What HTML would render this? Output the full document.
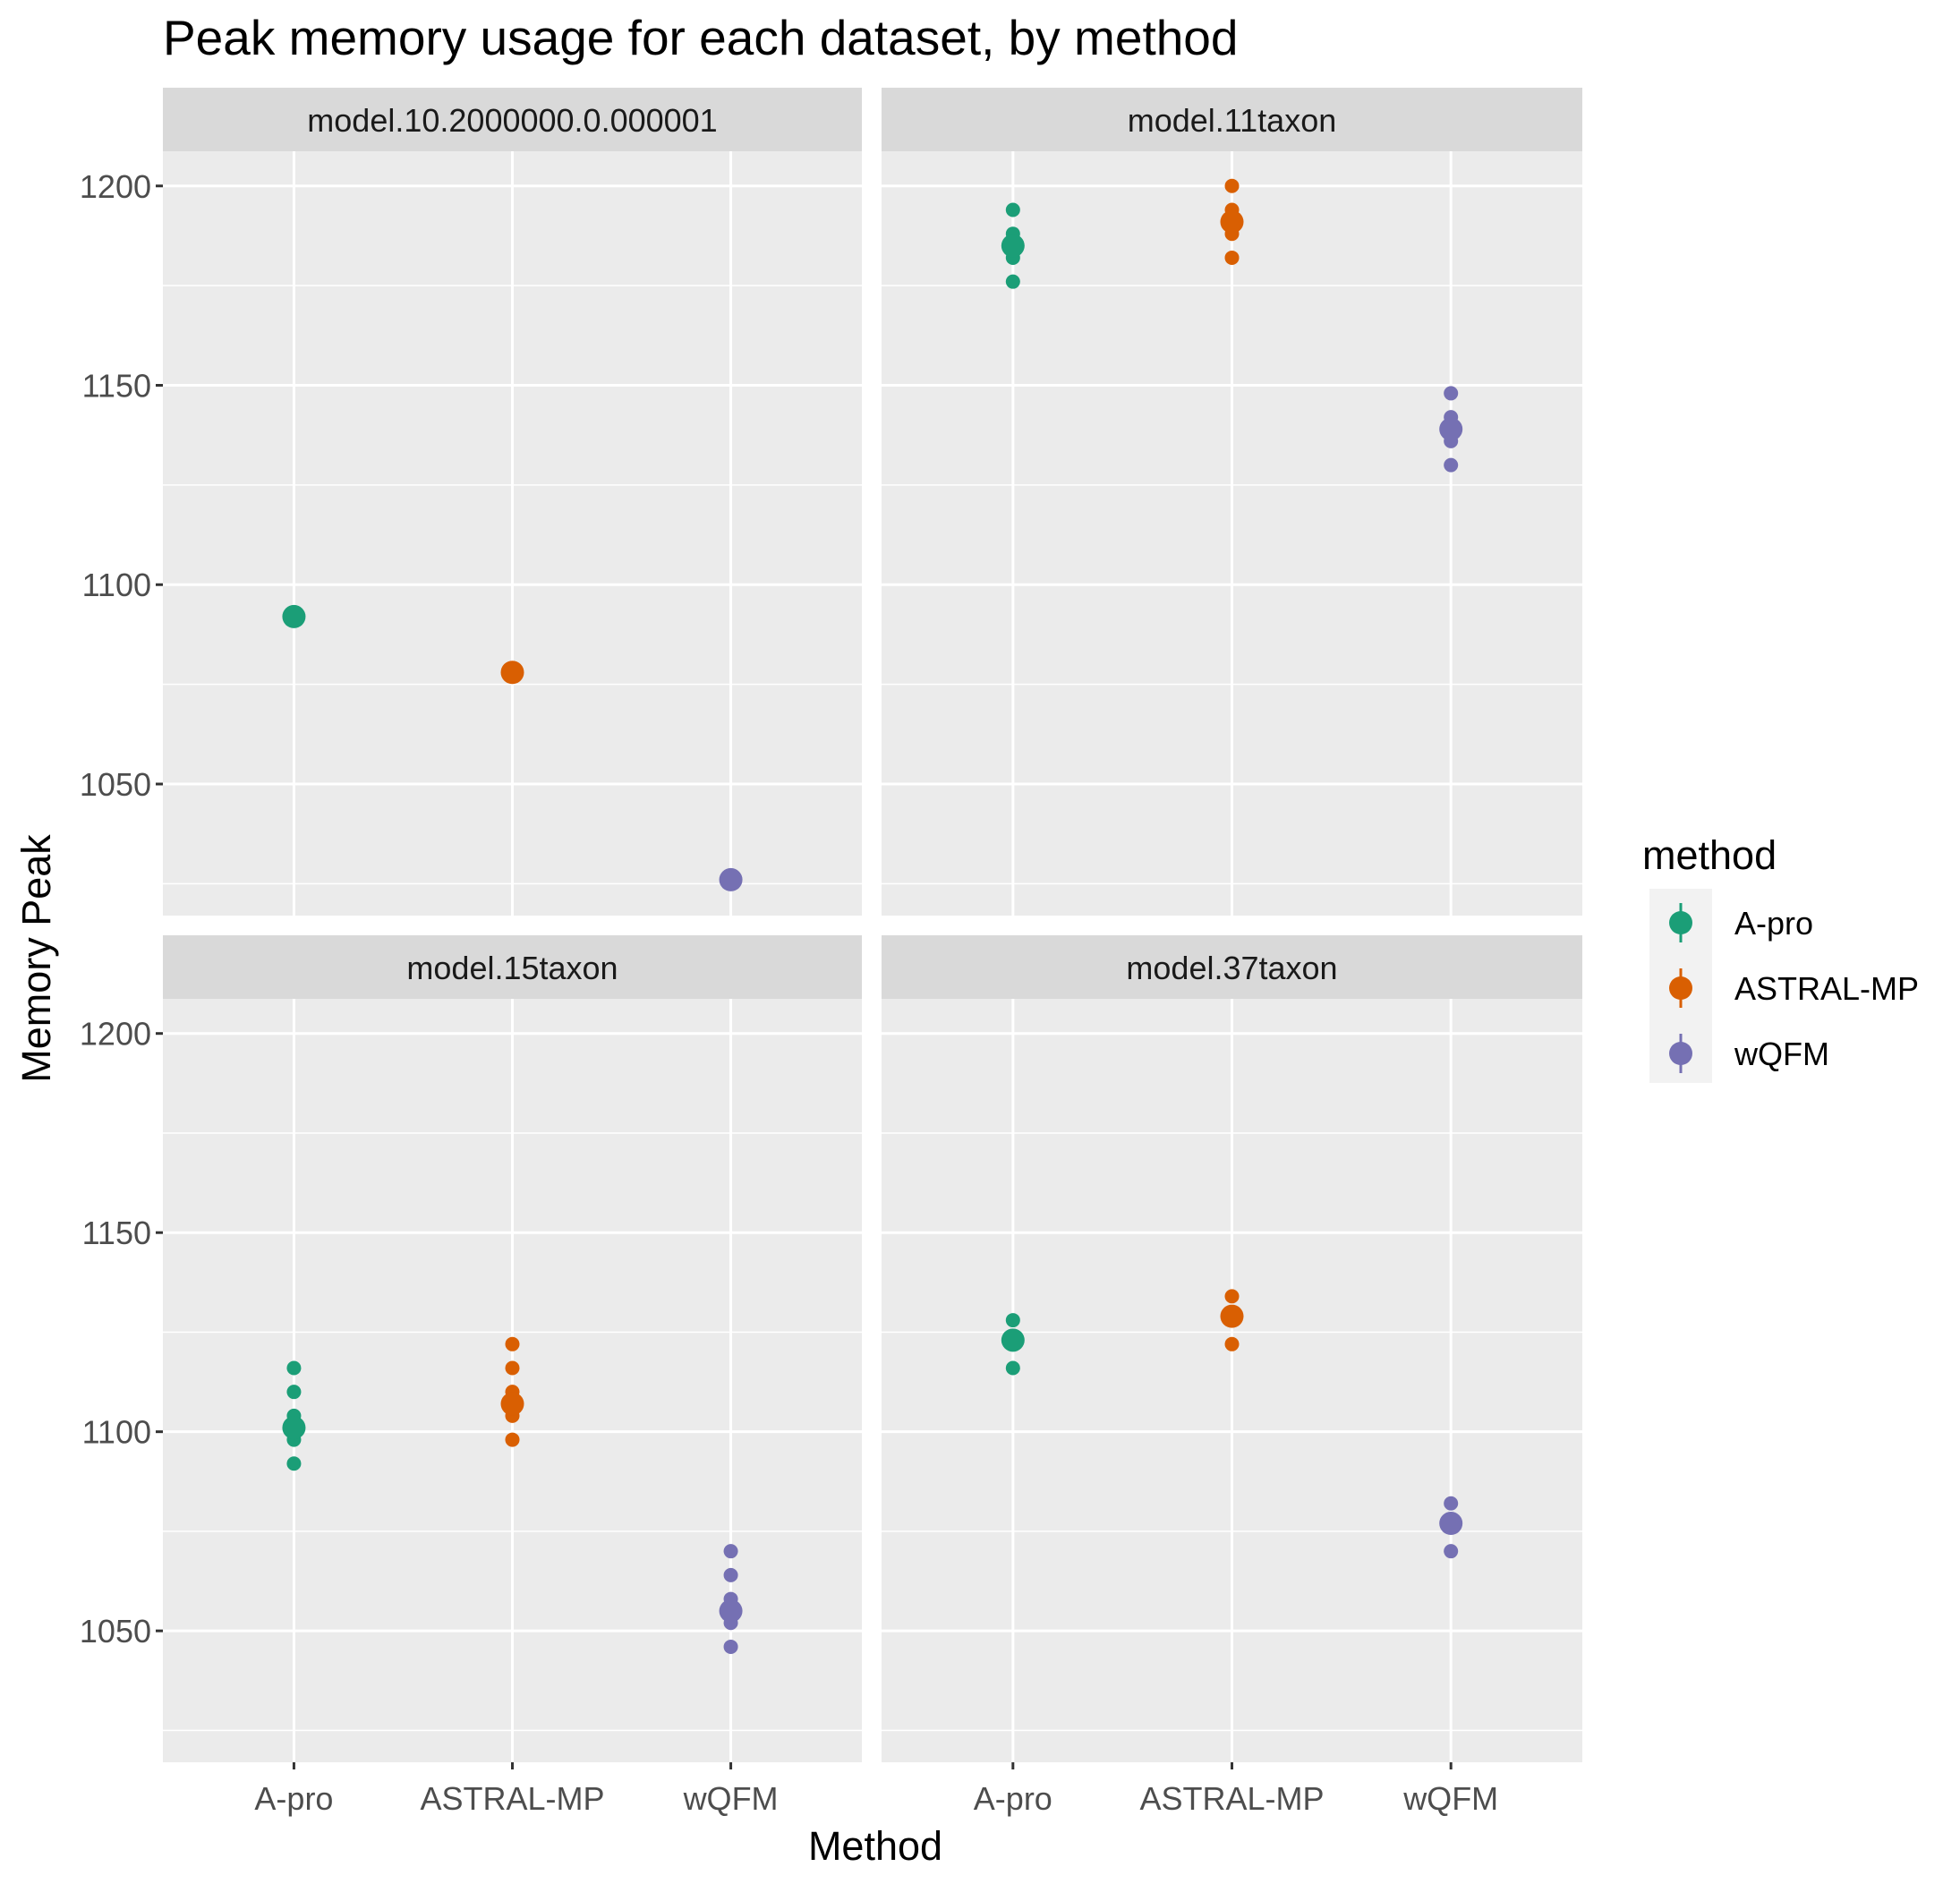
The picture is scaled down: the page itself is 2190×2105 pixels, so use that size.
<!DOCTYPE html>
<html><head><meta charset="utf-8"><style>
html,body{margin:0;padding:0;background:#fff}
svg text{font-family:"Liberation Sans",Arial,sans-serif}
</style></head><body>
<svg id="chart" width="2190" height="2100" viewBox="0 0 2190 2100" xmlns="http://www.w3.org/2000/svg">
<rect width="2190" height="2100" fill="#fff"/>
<text x="182" y="61" font-size="55" fill="#000">Peak memory usage for each dataset, by method</text>
<g id="panels"></g>
<text transform="translate(56,1071) rotate(-90)" text-anchor="middle" font-size="45" fill="#000">Memory Peak</text>
<text x="978" y="2078" text-anchor="middle" font-size="45" fill="#000">Method</text>
<g>
<text x="1835" y="971" font-size="45" fill="#000">method</text>
<rect x="1843" y="993" width="70" height="217" fill="#f2f2f2"/>
<g id="legend-entries"></g>
</g>
</svg>
<script>
const panelNames = ["model.10.2000000.0.000001","model.11taxon","model.15taxon","model.37taxon"];
const methods = ["A-pro","ASTRAL-MP","wQFM"];
const colors = ["#1b9e77","#d95f02","#7570b3"];
const yTicks = [1050,1100,1150,1200];
const yMinor = [1025,1075,1125,1175];
// individual run values per panel per method
const aproValues = [[1092],[1194,1188,1186,1182,1176],[1116,1110,1104,1100,1098,1092],[1128,1124,1116]];
const astralValues = [[1078],[1200,1194,1192,1188,1182],[1122,1116,1110,1108,1104,1098],[1134,1130,1122]];
const wqfmValues = [[1026],[1148,1142,1140,1136,1130],[1070,1064,1058,1054,1052,1046],[1082,1078,1070]];
// mean values (large points)
const aproMeans = [1092,1185,1101,1123];
const astralMeans = [1078,1191,1107,1129];
const wqfmMeans = [1026,1139,1055,1077];

const NS="http://www.w3.org/2000/svg";
function mk(tag,attrs,parent){const e=document.createElementNS(NS,tag);for(const k in attrs)e.setAttribute(k,attrs[k]);parent.appendChild(e);return e;}
const panelsG=document.getElementById('panels');
const panelX=[[182,963],[985,1768]];
const panelY=[[98,169,1023],[1045,1116,1969]];
const yMax=1208.7, yMin=1017;
const allVals=[aproValues,astralValues,wqfmValues];
const allMeans=[aproMeans,astralMeans,wqfmMeans];

panelNames.forEach((name,pi)=>{
  const col=pi%2,row=Math.floor(pi/2);
  const [x0,x1]=panelX[col];const [st,pt,pb]=panelY[row];
  const ys=v=>pt+(yMax-v)/(yMax-yMin)*(pb-pt);
  const xs=i=>x0+(x1-x0)*(0.1875+i*0.3125);
  const g=mk('g',{},panelsG);
  
  
  const strip=mk('rect',{x:x0,y:st,width:x1-x0,height:pt-st,fill:'#d9d9d9'},g);
  
  
  const stxt=mk('text',{x:(x0+x1)/2,y:st+49,'text-anchor':'middle','font-size':'36',fill:'#1a1a1a'},g);
  stxt.textContent=name;
  
  
  const bg=mk('rect',{x:x0,y:pt,width:x1-x0,height:pb-pt,fill:'#ebebeb'},g);
  
  
  yMinor.forEach(v=>{const l=mk('line',{x1:x0,x2:x1,y1:ys(v),y2:ys(v),stroke:'#fff','stroke-width':1.5},g);
    });
  yTicks.forEach(v=>{const l=mk('line',{x1:x0,x2:x1,y1:ys(v),y2:ys(v),stroke:'#fff','stroke-width':3},g);
    
    if(col===0){
      const t=mk('line',{x1:x0-8,x2:x0,y1:ys(v),y2:ys(v),stroke:'#333','stroke-width':3},g);
      
      const lb=mk('text',{x:x0-13,y:ys(v)+13,'text-anchor':'end','font-size':'36',fill:'#4d4d4d'},g);
      lb.textContent=v;
    }});
  methods.forEach((m,mi)=>{
    const cx=xs(mi);
    const l=mk('line',{x1:cx,x2:cx,y1:pt,y2:pb,stroke:'#fff','stroke-width':3},g);
    
    if(row===1){
      const t=mk('line',{x1:cx,x2:cx,y1:pb,y2:pb+8,stroke:'#333','stroke-width':3},g);
      
      const lb=mk('text',{x:cx,y:pb+53,'text-anchor':'middle','font-size':'36',fill:'#4d4d4d'},g);
      lb.textContent=m;
    }
  });
  methods.forEach((m,mi)=>{
    const cx=xs(mi);const vals=allVals[mi][pi];
    vals.forEach(v=>{const c=mk('circle',{cx:cx,cy:ys(v),r:8,fill:colors[mi]},g);
      });
    const mc=mk('circle',{cx:cx,cy:ys(allMeans[mi][pi]),r:13,fill:colors[mi]},g);
    
  });
});
const le=document.getElementById('legend-entries');
methods.forEach((m,i)=>{
  const y=1031+i*73;
  const g=mk('g',{},le);
  
  
  mk('line',{x1:1878,x2:1878,y1:y-22,y2:y+22,stroke:colors[i],'stroke-width':3},g);
  mk('circle',{cx:1878,cy:y,r:13,fill:colors[i]},g);
  const t=mk('text',{x:1938,y:y+13,'font-size':'36',fill:'#000'},g);t.textContent=m;
});
</script>
</body></html>
